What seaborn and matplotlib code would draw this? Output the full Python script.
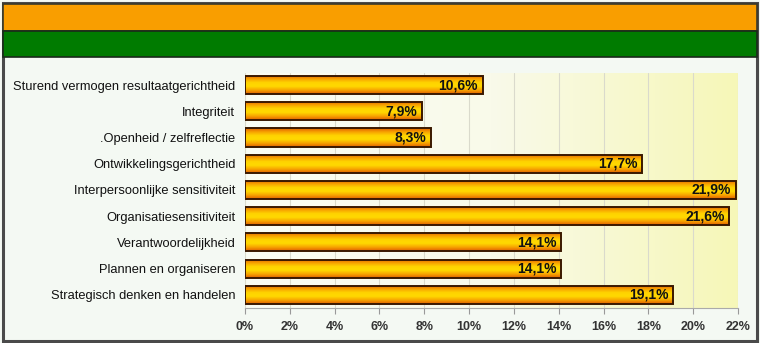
import numpy as np
import pandas as pd
import matplotlib
matplotlib.use("Agg")
import matplotlib.pyplot as plt
from matplotlib.colors import LinearSegmentedColormap
from matplotlib.patches import Rectangle
import seaborn as sns

categories = [
    "Sturend vermogen resultaatgerichtheid",
    "Integriteit",
    ".Openheid / zelfreflectie",
    "Ontwikkelingsgerichtheid",
    "Interpersoonlijke sensitiviteit",
    "Organisatiesensitiviteit",
    "Verantwoordelijkheid",
    "Plannen en organiseren",
    "Strategisch denken en handelen",
]
values = [10.6, 7.9, 8.3, 17.7, 21.9, 21.6, 14.1, 14.1, 19.1]
x_ticks = [0, 2, 4, 6, 8, 10, 12, 14, 16, 18, 20, 22]

sns.set_theme(style="white")
plt.rcParams["font.family"] = ["Liberation Sans", "DejaVu Sans"]

df = pd.DataFrame({"item": categories, "pct": values})

fig = plt.figure(figsize=(7.6, 3.43), dpi=100)
fig.patch.set_facecolor("#f4f9f3")

# header bands and outer frame
fig.add_artist(Rectangle((0.004, 0.006), 0.992, 0.985, transform=fig.transFigure,
                         facecolor="none", edgecolor="#4a4a4a", lw=2.2, zorder=0))
fig.add_artist(Rectangle((0.004, 1 - 31 / 343), 0.992, 27 / 343, transform=fig.transFigure,
                         facecolor="#f99e00", edgecolor="#3a3a2a", lw=1.2))
fig.add_artist(Rectangle((0.004, 1 - 57 / 343), 0.992, 26 / 343, transform=fig.transFigure,
                         facecolor="#007b00", edgecolor="#1a2a1a", lw=1.2))

ax = fig.add_axes([245 / 760, 35 / 343, 493 / 760, 235 / 343])

sns.barplot(data=df, x="pct", y="item", orient="h", ax=ax, width=0.69,
            color="#ffc400", edgecolor="#3a1800", linewidth=1.4, zorder=3)

ax.set_xlim(0, 22)
ax.set_ylim(8.5, -0.46)

# pale background fading from white to yellow
bg = LinearSegmentedColormap.from_list("bg", ["#fbfdf4", "#f9faea", "#f6f7b8"])
ax.imshow(np.linspace(0, 1, 256).reshape(1, -1), cmap=bg, aspect="auto",
          extent=[0, 22, 8.5, -0.46], zorder=0)

# vertical orange-yellow-orange fill inside each bar
bar_cmap = LinearSegmentedColormap.from_list(
    "bar", ["#e06000", "#f7a300", "#ffd400", "#ffd800", "#f7a300", "#e06000"])
grad = np.linspace(0, 1, 64).reshape(-1, 1)
for patch in ax.patches:
    x0, y0 = patch.get_x(), patch.get_y()
    w, h = patch.get_width(), patch.get_height()
    im = ax.imshow(grad, cmap=bar_cmap, aspect="auto",
                   extent=[x0, x0 + w, y0 + h, y0], zorder=3.5)
    im.set_clip_path(patch)
    patch.set_zorder(4)
    patch.set_facecolor("none")

for i, v in enumerate(values):
    ax.text(v - 0.2, i, f"{v:.1f}%".replace(".", ","), ha="right", va="center",
            fontsize=10, fontweight="bold", color="#111111", zorder=5)

ax.set_xticks(x_ticks)
ax.set_xticklabels([f"{t}%" for t in x_ticks], fontsize=9, fontweight="bold", color="#333333")
ax.tick_params(axis="x", length=4, width=0.8, color="#999999", pad=5, bottom=True)
ax.tick_params(axis="y", length=0, pad=7, labelsize=9.3, labelcolor="#111111")
ax.set_xlabel("")
ax.set_ylabel("")
ax.grid(axis="x", color="#dadacc", lw=0.8, zorder=1)
for side in ("top", "right", "left"):
    ax.spines[side].set_visible(False)
ax.spines["bottom"].set_color("#aaaaaa")
ax.spines["bottom"].set_linewidth(0.8)

fig.savefig("out.png", dpi=100, facecolor=fig.get_facecolor())
